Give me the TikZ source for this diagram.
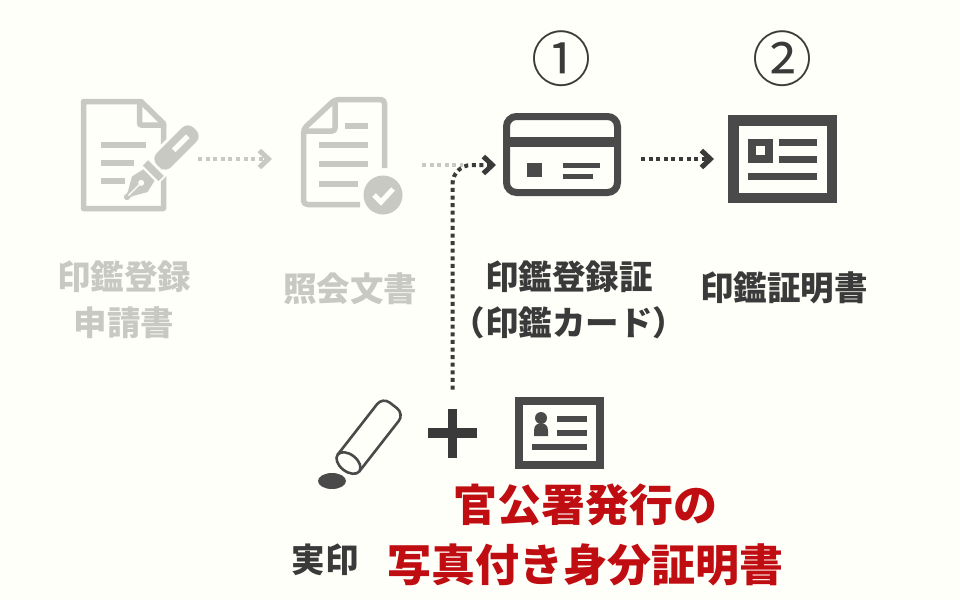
\documentclass[tikz,border=0pt]{standalone}
\usepackage{fontspec}
\setmainfont{Noto Sans CJK JP}[BoldFont={Noto Sans CJK JP Black}]
\newfontfamily\numfont{Noto Sans CJK JP}
\usetikzlibrary{arrows.meta,calc}
\definecolor{bgc}{HTML}{FFFFF9}
\definecolor{fade}{HTML}{C8C9C3}
\definecolor{ink}{HTML}{4A4A4A}
\definecolor{txt}{HTML}{3A3A3A}
\definecolor{redt}{HTML}{C00D12}
\tikzset{
  icon/.style={inner sep=0pt,outer sep=0pt,draw=none},
  flow/.style={line width=4pt,dash pattern=on 4pt off 3.6pt,-{Straight Barb[length=9pt,width=17pt,line width=5pt]}},
  flowplain/.style={line width=4pt,dash pattern=on 4pt off 3.6pt},
  lab/.style={align=center,inner sep=0pt,font=\bfseries\fontsize{33.5}{46}\selectfont},
  big/.style={inner sep=0pt,text=redt,font=\bfseries\fontsize{44}{60}\selectfont},
  num/.style={inner sep=0pt,text=txt,font=\numfont\fontsize{60}{70}\selectfont},
}
\begin{document}
\begin{tikzpicture}[x=1pt,y=-1pt]
\useasboundingbox (0,0) rectangle (960,600);
\fill[bgc] (0,0) rectangle (960,600);

% anchors of the icons
\node[icon,minimum width=114pt,minimum height=30pt] (form) at (138,159) {};
\node[icon,minimum width=102pt,minimum height=30pt] (reply) at (351,159) {};
\node[icon,minimum width=118pt,minimum height=60pt] (card) at (562,165) {};
\node[icon,minimum width=109pt,minimum height=88pt] (cert) at (782.5,159) {};
\node[icon,minimum width=49pt,minimum height=49pt] (plus) at (452.5,433) {};
\coordinate (merge) at (463,165);

% application form
\draw[fade,line width=5.5pt,line join=round] (164,124) -- (141,101.5) -- (83.5,101.5) -- (83.5,208.5) -- (163.5,208.5) -- (163.5,124);
\draw[fade,line width=5.5pt,rounded corners=2pt] (139.5,99) -- (139.5,125) -- (166,125);
\foreach \yy/\xx in {145/146,163/134,181/125}{
  \fill[fade] (101,\yy-2.7) rectangle (\xx,\yy+2.7);
}
\begin{scope}[shift={(127,197)},rotate=45]
  \draw[bgc,line width=8pt,line join=round] (0,0) -- (18,-10) -- (31,-7) -- (33,-9) -- (85,-9) -- (94,0) -- (85,9) -- (33,9) -- (31,7) -- (18,10) -- cycle;
  \fill[fade] (0,-2) -- (5,-3.5) -- (18,-11) -- (31,-8) -- (31,8) -- (18,11) -- (5,3.5) -- (0,2) -- cycle;
  \fill[fade] (0,0) circle (3.2);
  \fill[fade] (33.5,-11) rectangle (41,11);
  \fill[fade,rounded corners=8pt] (44,-10) -- (96,-10) -- (96,10) -- (44,10) -- cycle;
  \fill[bgc] (66,-2.5) rectangle (86,2.5);
  \fill[bgc] (20,0) circle (3);
  \draw[bgc,line width=1.4pt] (2,0) -- (20,0);
\end{scope}

% reply document
\draw[fade,line width=5.5pt,rounded corners=4pt,line join=round] (384.5,168) -- (384.5,99.5) -- (335,99.5) -- (303.5,129) -- (303.5,204.5) -- (360,204.5);
\draw[fade,line width=5.5pt,rounded corners=3pt] (335,99) -- (335,131) -- (303,131);
\foreach \yy/\xa/\xb in {126/345/368,145/319/368,164/319/368,184/319/358}{
  \fill[fade] (\xa,\yy-2.7) rectangle (\xb,\yy+2.7);
}
\fill[fade] (383,195) circle (19.5);
\draw[bgc,line width=5pt] (374,195) -- (381,202) -- (393,189);

% registration card
\draw[ink,line width=7pt,rounded corners=10pt] (506.5,116.5) rectangle (617.5,192.5);
\fill[ink] (505,137) rectangle (619,147);
\fill[ink] (527,163) rectangle (542,177);
\fill[ink] (563,163) rectangle (600,168);
\fill[ink] (563,174) rectangle (593,179);

% certificate
\draw[ink,line width=10.5pt] (733.5,120.5) rectangle (832,198);
\fill[ink] (748,139) rectangle (773,163);
\fill[bgc] (756,146) rectangle (765,155);
\fill[ink] (779,139) rectangle (817,146);
\fill[ink] (779,156) rectangle (817,163);
\fill[ink] (748,173) rectangle (817,180);

% seal
\begin{scope}[shift={(348.5,463)},rotate=-38]
  \draw[ink,line width=2.6pt,rounded corners=9pt] (-13.7,0) -- (-13.7,-73) -- (13.7,-73) -- (13.7,0);
  \draw[ink,line width=2.6pt,fill=bgc] (0,0) ellipse (13.7 and 8.5);
\end{scope}
\fill[ink] (332,481) ellipse (14 and 8);

% plus
\fill[txt] (428,428) rectangle (477,438);
\fill[txt] (448,409) rectangle (457,458);

% photo id
\draw[ink,line width=8pt] (519,401) rectangle (600,465);
\fill[ink] (541,418) circle (6);
\fill[ink] (534,436) -- (534,431) .. controls (534,425) and (537,423.5) .. (541,423.5) .. controls (545,423.5) and (548,425) .. (548,431) -- (548,436) -- cycle;
\fill[ink] (557,416) rectangle (587,422);
\fill[ink] (557,430) rectangle (587,436);
\fill[ink] (532,444) rectangle (587,450);

% connectors
\draw[flow,fade,shorten <=3pt,shorten >=28pt] (form.east) -- (reply.west);
\draw[flowplain,fade,shorten <=20pt] (reply.east|-merge) -- (merge);
\draw[flow,txt,rounded corners=19pt,shorten <=19pt,shorten >=7pt] (plus.north) |- (card.west);
\draw[flow,txt,shorten <=20pt,shorten >=14pt] ([yshift=6pt]card.east) -- (cert.west);

% labels
\node[lab,text=fade] (l1) at (124,300) {印鑑登録\\申請書};
\node[lab,text=fade] (l2) at (350,289) {照会文書};
\node[lab,text=txt] (l3) at (569,300) {印鑑登録証\\（印鑑カード）};
\node[lab,text=txt] (l4) at (784,288) {印鑑証明書};
\node[lab,text=txt] (l5) at (325,560) {実印};
\node[big] (l6) at (585,505) {官公署発行の};
\node[big] (l7) at (585,565) {写真付き身分証明書};
\node[num] (n1) at (561,59) {①};
\node[num] (n2) at (782,59) {②};
\end{tikzpicture}
\end{document}
